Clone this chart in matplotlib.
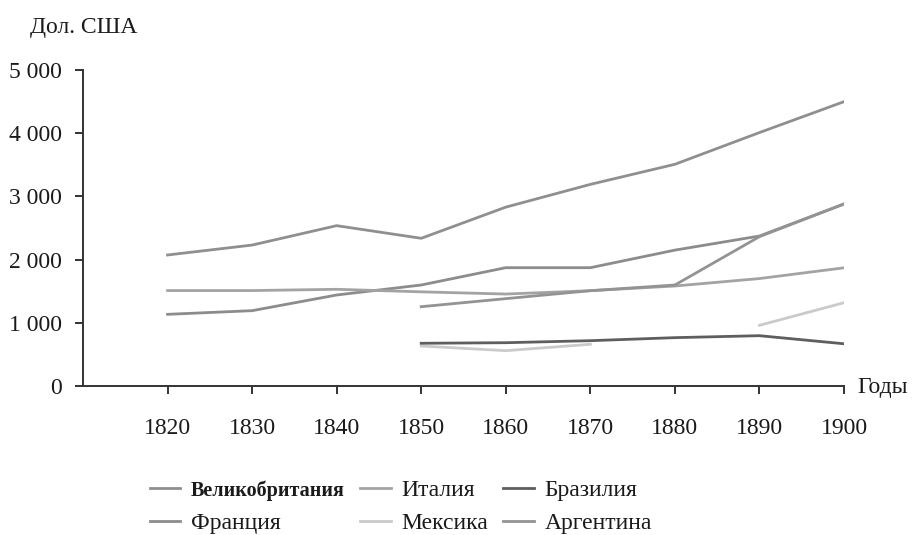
import matplotlib
matplotlib.use("Agg")
import matplotlib.pyplot as plt
import numpy as np

plt.rcParams['font.family'] = ['Liberation Serif', 'DejaVu Serif']

years_all = [1820, 1830, 1840, 1850, 1860, 1870, 1880, 1890, 1900]
uk = [2073, 2230, 2537, 2337, 2830, 3190, 3508, 4010, 4499]
france = [1134, 1192, 1440, 1598, 1872, 1872, 2150, 2373, 2880]
italy = [1510, 1510, 1530, 1490, 1455, 1508, 1582, 1700, 1870]
years_br = [1850, 1860, 1870, 1880, 1890, 1900]
brazil = [676, 685, 717, 765, 796, 668]
years_mx1 = [1850, 1860, 1870]
mexico1 = [633, 559, 660]
years_mx2 = [1890, 1900]
mexico2 = [960, 1318]
years_ar = [1850, 1860, 1870, 1880, 1890, 1900]
argentina = [1255, 1382, 1508, 1598, 2363, 2880]

yticks = [0, 1000, 2000, 3000, 4000, 5000]
xticks = years_all

fig = plt.figure(figsize=(9.13, 5.35), dpi=100)
ax = fig.add_axes([83/913, 1-386/535, (844-83)/913, (386-70)/535])

lw = 2.0
c_uk = '#8f8f8f'
c_fr = '#8c8c8c'
c_it = '#a3a3a3'
c_br = '#5e5e5e'
c_mx = '#cacaca'
c_ar = '#939393'

l_uk, = ax.plot(years_all, uk, color=c_uk, lw=lw, label='Великобритания')
l_fr, = ax.plot(years_all, france, color=c_fr, lw=lw, label='Франция')
l_it, = ax.plot(years_all, italy, color=c_it, lw=lw, label='Италия')
l_mx, = ax.plot(years_mx1, mexico1, color=c_mx, lw=lw, label='Мексика')
ax.plot(years_mx2, mexico2, color=c_mx, lw=lw)
l_br, = ax.plot(years_br, brazil, color=c_br, lw=lw, label='Бразилия')
l_ar, = ax.plot(years_ar, argentina, color=c_ar, lw=lw, label='Аргентина')

ax.set_xlim(1810, 1900)
ax.set_ylim(0, 5000)
ax.set_xticks(xticks)
ax.set_xticklabels([str(x) for x in xticks])
ax.set_yticks(yticks)
ax.set_yticklabels([f"{v:,}".replace(",", " ") for v in yticks])
for s in ['top', 'right']:
    ax.spines[s].set_visible(False)
for s in ['left', 'bottom']:
    ax.spines[s].set_color('#333333')
    ax.spines[s].set_linewidth(1.4)
ax.tick_params(axis='both', direction='out', length=6, width=1.4, color='#333333',
               labelsize=17, labelcolor='#1a1a1a')
ax.tick_params(axis='x', pad=17)
ax.tick_params(axis='y', pad=9)

fig.text(30/913, 1-27/535, 'Дол. США', fontsize=17, va='center', ha='left', color='#1a1a1a')
fig.text(857/913, 1-387/535, 'Годы', fontsize=17, va='center', ha='left', color='#1a1a1a')

leg = fig.legend(handles=[l_uk, l_fr, l_it, l_mx, l_br, l_ar], ncol=3, frameon=False,
                 loc='upper left', bbox_to_anchor=(133/913, 1-463/535),
                 fontsize=17, handlelength=1.3, handletextpad=0.45,
                 columnspacing=0.65, labelspacing=0.48, borderpad=0.2)
for t in leg.get_texts():
    t.set_color('#1a1a1a')
leg.get_texts()[0].set_fontweight('bold')
leg.get_texts()[0].set_fontsize(14.5)

fig.savefig('out.png', dpi=100)
